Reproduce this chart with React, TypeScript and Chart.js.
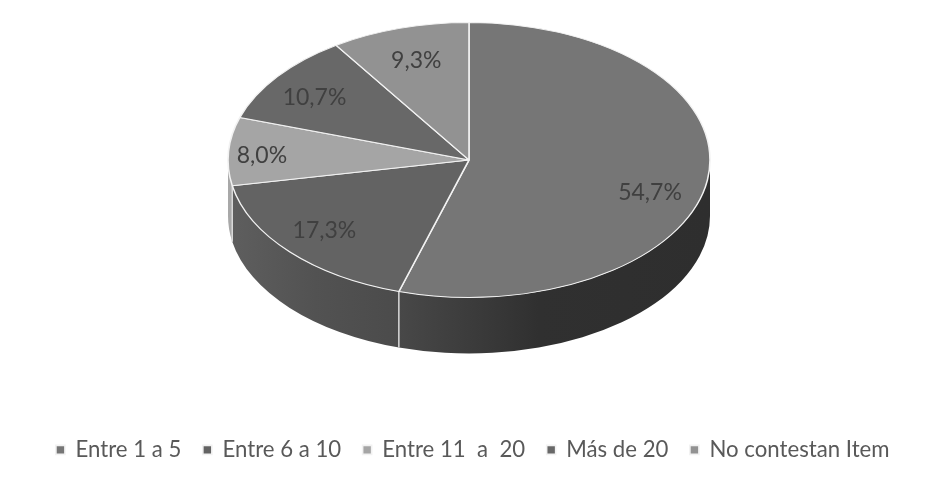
import React, { useEffect, useRef } from "react";
import { Chart, registerables } from "chart.js";

Chart.register(...registerables);

const categories = ["Entre 1 a 5", "Entre 6 a 10", "Entre 11  a  20", "Más de 20", "No contestan Item"];
const percentages = [54.7, 17.3, 8.0, 10.7, 9.3];
const topColors = ["#767676", "#636363", "#a5a5a5", "#686868", "#929292"];
const wallStops: string[][] = [
  ["#484848", "#303030", "#2e2e2e"],
  ["#5e5e5e", "#525252", "#4b4b4b"],
  ["#a8a8a8", "#a8a8a8", "#a8a8a8"],
  ["#555555", "#555555", "#555555"],
  ["#777777", "#777777", "#777777"],
];
// label placement relative to each slice: radial fraction and angular nudge (degrees)
const labelRadial = [0.786, 0.787, 0.86, 0.79, 0.76];
const labelNudge = [8.7, 1.6, -1.2, -1.5, 0];

const CX = 469;
const CY = 160;
const RX = 241;
const RY = 137.5;
const DEPTH = 56;
const squash = RY / RX;

const pie3d = {
  id: "pie3d",
  beforeDatasetsDraw(chart: any) {
    const { ctx } = chart;
    const arcs = chart.getDatasetMeta(0).data;
    ctx.save();
    arcs.forEach((el: any, i: number) => {
      const { startAngle, endAngle } = el.getProps(["startAngle", "endAngle"]);
      const a0 = Math.max(startAngle, 0);
      const a1 = Math.min(endAngle, Math.PI);
      if (a1 <= a0) return;
      const xa = CX + RX * Math.cos(a0);
      const xb = CX + RX * Math.cos(a1);
      const g = ctx.createLinearGradient(Math.min(xa, xb), 0, Math.max(xa, xb), 0);
      const s = wallStops[i];
      g.addColorStop(0, s[0]);
      g.addColorStop(i === 0 ? 0.45 : 0.5, s[1]);
      g.addColorStop(1, s[2]);
      ctx.beginPath();
      ctx.ellipse(CX, CY, RX, RY, 0, a0, a1, false);
      ctx.ellipse(CX, CY + DEPTH, RX, RY, 0, a1, a0, true);
      ctx.closePath();
      ctx.fillStyle = g;
      ctx.fill();
    });
    arcs.forEach((el: any) => {
      const { endAngle } = el.getProps(["endAngle"]);
      if (endAngle > 0 && endAngle < Math.PI) {
        const px = CX + RX * Math.cos(endAngle);
        const py = CY + RY * Math.sin(endAngle);
        ctx.beginPath();
        ctx.moveTo(px, py);
        ctx.lineTo(px, py + DEPTH);
        ctx.strokeStyle = "#d9d9d9";
        ctx.lineWidth = 1.5;
        ctx.stroke();
      }
    });
    ctx.restore();
    const { x, y } = arcs[0].getProps(["x", "y"]);
    ctx.save();
    ctx.translate(CX, CY);
    ctx.scale(1, squash);
    ctx.translate(-x, -y);
  },
  afterDatasetsDraw(chart: any) {
    const { ctx } = chart;
    ctx.restore();
    const arcs = chart.getDatasetMeta(0).data;
    ctx.save();
    ctx.font = "23px Lato";
    ctx.fillStyle = "#404040";
    ctx.textAlign = "center";
    ctx.textBaseline = "middle";
    arcs.forEach((el: any, i: number) => {
      const { startAngle, endAngle } = el.getProps(["startAngle", "endAngle"]);
      const mid = (startAngle + endAngle) / 2 + (labelNudge[i] * Math.PI) / 180;
      const lx = CX + RX * labelRadial[i] * Math.cos(mid);
      const ly = CY + 1 + RY * labelRadial[i] * Math.sin(mid);
      ctx.fillText(percentages[i].toFixed(1).replace(".", ",") + "%", lx, ly);
    });
    ctx.restore();
  },
};

export default function App() {
  const ref = useRef<HTMLCanvasElement>(null);
  useEffect(() => {
    const chart = new Chart(ref.current!, {
      type: "pie",
      data: {
        labels: categories,
        datasets: [
          {
            data: percentages,
            backgroundColor: topColors,
            borderColor: "#f2f2f2",
            borderWidth: 1.6,
            radius: RX,
          },
        ],
      },
      options: {
        responsive: false,
        animation: false,
        layout: { padding: { left: 16, right: 0, top: 0, bottom: 9 } },
        plugins: {
          tooltip: { enabled: false },
          legend: {
            position: "bottom",
            labels: {
              usePointStyle: true,
              pointStyle: "rect",
              boxWidth: 8,
              boxHeight: 9,
              padding: 22,
              color: "#595959",
              font: { family: "Lato", size: 22.2 },
            },
          },
        },
      },
      plugins: [pie3d],
    } as any);
    return () => chart.destroy();
  }, []);
  return (
    <div style={{ position: "fixed", left: 0, top: 0, width: 930, height: 480, background: "#fff" }}>
      <canvas ref={ref} width={930} height={480} style={{ display: "block" }} />
    </div>
  );
}
